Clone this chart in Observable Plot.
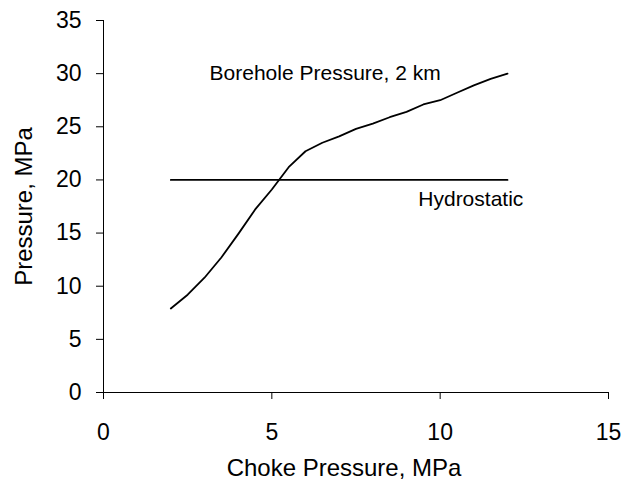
<!DOCTYPE html>
<html>
<head>
<meta charset="utf-8">
<script src="https://cdn.jsdelivr.net/npm/d3@7"></script>
<script src="https://cdn.jsdelivr.net/npm/@observablehq/plot@0.6"></script>
<style>
  html, body { margin: 0; padding: 0; background: #fff; }
  #chart svg { display: block; }
</style>
</head>
<body>
<div id="chart"></div>
<script>
const chokePressure = [2, 2.5, 3, 3.5, 4, 4.5, 5, 5.5, 6, 6.5, 7, 7.5, 8, 8.5, 9, 9.5, 10, 10.5, 11, 11.5, 12];
const boreholePressure = [7.9, 9.2, 10.8, 12.7, 14.9, 17.2, 19.1, 21.2, 22.7, 23.5, 24.1, 24.8, 25.3, 25.9, 26.4, 27.1, 27.5, 28.2, 28.9, 29.5, 30.0];
const hydrostaticX = [2, 12];
const hydrostaticY = [20, 20];
const xTicks = [0, 5, 10, 15];
const yTicks = [0, 5, 10, 15, 20, 25, 30, 35];
const seriesLabels = [
  {x: 3.15, y: 30.0, text: "Borehole Pressure, 2 km"},
  {x: 9.35, y: 18.2, text: "Hydrostatic"}
];

const borehole = chokePressure.map((x, i) => ({x, y: boreholePressure[i]}));
const hydro = hydrostaticX.map((x, i) => ({x, y: hydrostaticY[i]}));

const FONT = "'Liberation Sans', Arial, sans-serif";
const TICK_FS = 23;
const TITLE_FS = 24;
const LABEL_FS = 21;
const chart = Plot.plot({
  width: 624,
  height: 487,
  marginLeft: 103,
  marginRight: 16,
  marginTop: 20,
  marginBottom: 95,
  style: {fontFamily: FONT, fontSize: TICK_FS + "px", background: "#fff", color: "#000"},
  x: {domain: [0, 15]},
  y: {domain: [0, 35]},
  marks: [
    Plot.axisX({ticks: xTicks, tickSize: 7, tickPadding: 24, label: null, fontSize: TICK_FS}),
    Plot.axisY({ticks: yTicks, tickSize: 7, tickPadding: 15, label: null, fontSize: TICK_FS}),
    Plot.ruleY([0], {stroke: "#000", strokeWidth: 1}),
    Plot.ruleX([0], {stroke: "#000", strokeWidth: 1}),
    Plot.line(hydro, {x: "x", y: "y", stroke: "#000", strokeWidth: 1.8}),
    Plot.line(borehole, {x: "x", y: "y", stroke: "#000", strokeWidth: 1.8}),
    Plot.text(seriesLabels, {x: "x", y: "y", text: "text", textAnchor: "start", lineAnchor: "middle", fontSize: LABEL_FS, fill: "#000"}),
    Plot.text(["Choke Pressure, MPa"], {frameAnchor: "bottom", textAnchor: "middle", lineAnchor: "middle", dx: -12, dy: 76, fontSize: TITLE_FS, fill: "#000"}),
    Plot.text(["Pressure, MPa"], {frameAnchor: "left", textAnchor: "middle", lineAnchor: "middle", dx: -79, rotate: -90, fontSize: TITLE_FS, fill: "#000"})
  ]
});
document.getElementById("chart").appendChild(chart);
</script>
</body>
</html>
